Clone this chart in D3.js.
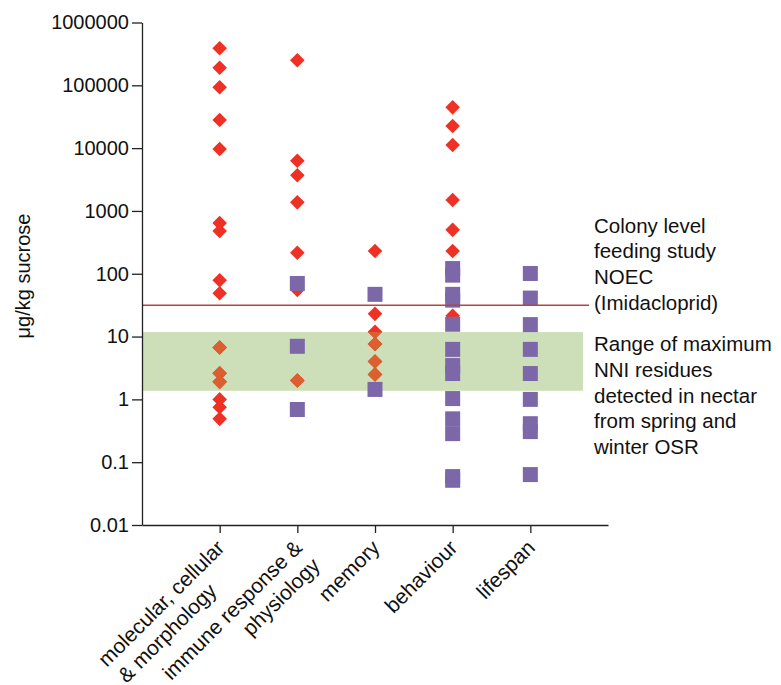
<!DOCTYPE html>
<html>
<head>
<meta charset="utf-8">
<script src="https://cdn.jsdelivr.net/npm/d3@7"></script>
<style>
  body { margin: 0; background: #fff; }
  svg { font-family: "Liberation Sans", Arial, Helvetica, sans-serif; }
</style>
</head>
<body>
<svg id="chart" width="781" height="685"></svg>
<script>
// categories along the x axis (two-line labels split with "|")
var categories = ["molecular, cellular|& morphology", "immune response &|physiology", "memory", "behaviour", "lifespan"];

// red diamonds, µg/kg, per category
var diamondValues = [
  [390000, 190000, 93000, 28000, 9700, 640, 480, 79, 49, 6.7, 2.6, 1.9, 1.0, 0.75, 0.49],
  [250000, 6300, 3700, 1370, 216, 55, 2.0],
  [230, 23, 11.9, 7.6, 4.0, 2.5],
  [44600, 22500, 11200, 1490, 500, 230, 21.4],
  []
];

// purple squares, µg/kg, per category
var squareValues = [
  [],
  [70, 7.0, 0.69],
  [47, 1.44],
  [121, 95, 47, 38, 15.7, 6.25, 3.45, 2.58, 1.03, 0.49, 0.285, 0.059, 0.0515],
  [101, 41, 15.5, 6.25, 2.58, 1.0, 0.41, 0.307, 0.0635]
];

var yTicks = [0.01, 0.1, 1, 10, 100, 1000, 10000, 100000, 1000000];

var noec = 31.6;               // colony level feeding study NOEC
var residueRange = [1.37, 11.8]; // range of max NNI residues in nectar

var noecLabel = ["Colony level", "feeding study", "NOEC", "(Imidacloprid)"];
var rangeLabel = ["Range of maximum", "NNI residues", "detected in nectar", "from spring and", "winter OSR"];

var svg = d3.select("#chart");

var x = d3.scaleLinear().domain([0, categories.length + 1]).range([142, 608]);
var y = d3.scaleLog().domain([0.01, 1000000]).range([525, 22.5]);

var red = "#ee3124", orange = "#dc5f30", purple = "#7c68a8";

// shaded residue band
var bandTop = y(residueRange[1]), bandBottom = y(residueRange[0]);
svg.append("rect")
    .attr("x", x(0))
    .attr("y", bandTop)
    .attr("width", 583 - x(0))
    .attr("height", bandBottom - bandTop)
    .attr("fill", "#cddfb8");

svg.append("clipPath").attr("id", "bandClip")
  .append("rect")
    .attr("x", x(0))
    .attr("y", bandTop)
    .attr("width", 583 - x(0))
    .attr("height", bandBottom - bandTop);

// flatten points
var diamonds = [], squares = [];
diamondValues.forEach(function(vals, i) {
  vals.forEach(function(v) { diamonds.push({cat: i + 1, value: v}); });
});
squareValues.forEach(function(vals, i) {
  vals.forEach(function(v) { squares.push({cat: i + 1, value: v}); });
});

var dr = 7.3; // diamond half-diagonal
var diamondPath = "M0," + (-dr) + "L" + dr + ",0L0," + dr + "L" + (-dr) + ",0Z";

svg.append("g").selectAll("path")
    .data(diamonds)
    .enter().append("path")
    .attr("d", diamondPath)
    .attr("transform", function(d) { return "translate(" + x(d.cat) + "," + y(d.value) + ")"; })
    .attr("fill", red);

// diamonds seen through the band look orange
svg.append("g").attr("clip-path", "url(#bandClip)").selectAll("path")
    .data(diamonds)
    .enter().append("path")
    .attr("d", diamondPath)
    .attr("transform", function(d) { return "translate(" + x(d.cat) + "," + y(d.value) + ")"; })
    .attr("fill", orange);

var s = 15;
svg.append("g").selectAll("rect")
    .data(squares)
    .enter().append("rect")
    .attr("x", function(d) { return x(d.cat) - s / 2; })
    .attr("y", function(d) { return y(d.value) - s / 2; })
    .attr("width", s)
    .attr("height", s)
    .attr("fill", purple);

// NOEC line
svg.append("line")
    .attr("x1", x(0)).attr("x2", 589)
    .attr("y1", y(noec)).attr("y2", y(noec))
    .attr("stroke", "#b5453f")
    .attr("stroke-width", 1.4);

// axes
var yAxis = svg.append("g")
    .attr("transform", "translate(" + x(0) + ",0)")
    .call(d3.axisLeft(y)
      .tickValues(yTicks)
      .tickFormat(function(d) { return String(d); })
      .tickSize(10)
      .tickSizeOuter(0)
      .tickPadding(3));

var xAxis = svg.append("g")
    .attr("transform", "translate(0," + y(0.01) + ")")
    .call(d3.axisBottom(x)
      .tickValues(d3.range(1, categories.length + 1))
      .tickFormat("")
      .tickSize(8)
      .tickSizeOuter(0));

svg.selectAll(".domain, .tick line").attr("stroke", "#222").attr("stroke-width", 1.3);
yAxis.selectAll("text").attr("font-size", 20).attr("fill", "#111")
    .attr("font-family", "Liberation Sans, Arial, sans-serif");

// rotated category labels
var lineShift = [-36, 0, 0, 0, 0];
var labels = svg.append("g").selectAll("text")
    .data(categories)
    .enter().append("text")
    .attr("transform", function(d, i) { return "translate(" + (x(i + 1) + 6) + "," + 549 + ") rotate(-45)"; })
    .attr("text-anchor", "end")
    .attr("font-size", 21)
    .attr("fill", "#111");

labels.each(function(d, i) {
  var parts = d.split("|");
  var t = d3.select(this);
  parts.forEach(function(p, j) {
    t.append("tspan")
      .attr("x", j === 0 ? 0 : lineShift[i])
      .attr("dy", j === 0 ? 0 : "1.2em")
      .text(p);
  });
});

// y axis title
svg.append("text")
    .attr("transform", "translate(30,276) rotate(-90)")
    .attr("text-anchor", "middle")
    .attr("font-size", 20)
    .attr("fill", "#111")
    .text("μg/kg sucrose");

// right side notes
function note(lines, baseline) {
  var t = svg.append("text")
      .attr("x", 594)
      .attr("y", baseline)
      .attr("font-size", 20.5)
      .attr("fill", "#111");
  lines.forEach(function(l, i) {
    t.append("tspan").attr("x", 594).attr("dy", i === 0 ? 0 : 25.8).text(l);
  });
}
note(noecLabel, 232.5);
note(rangeLabel, 351);
</script>
</body>
</html>
